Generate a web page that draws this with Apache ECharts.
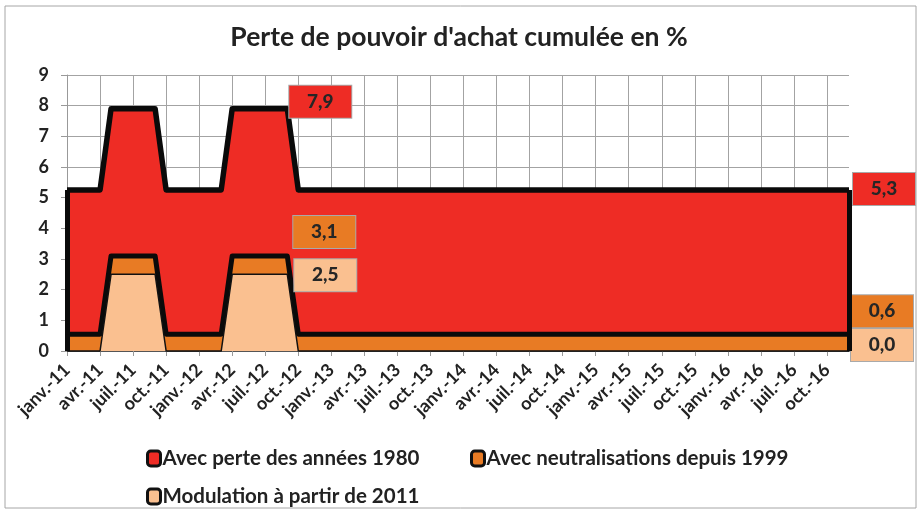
<!DOCTYPE html>
<html>
<head>
<meta charset="utf-8">
<title>Perte de pouvoir d'achat cumulée en %</title>
<script src="https://cdn.jsdelivr.net/npm/echarts@6/dist/echarts.min.js"></script>
<style>
  html, body { margin: 0; padding: 0; background: #fff; }
  #chart { width: 918px; height: 511px; }
</style>
</head>
<body>
<div id="chart"></div>
<script>
// mois de janv.-11 a déc.-16
var months = ['janv.', 'févr.', 'mars', 'avr.', 'mai', 'juin', 'juil.', 'août', 'sept.', 'oct.', 'nov.', 'déc.'];
var years = ['11', '12', '13', '14', '15', '16'];
var categories = [];
years.forEach(function (y) {
    months.forEach(function (m) { categories.push(m + '-' + y); });
});

var seriesNames = ['Avec perte des années 1980', 'Avec neutralisations depuis 1999', 'Modulation à partir de 2011'];

var perte1980 = [
    5.25, 5.25, 5.25, 5.25, 7.9, 7.9, 7.9, 7.9, 7.9, 5.25, 5.25, 5.25,
    5.25, 5.25, 5.25, 7.9, 7.9, 7.9, 7.9, 7.9, 7.9, 5.25, 5.25, 5.25,
    5.25, 5.25, 5.25, 5.25, 5.25, 5.25, 5.25, 5.25, 5.25, 5.25, 5.25, 5.25,
    5.25, 5.25, 5.25, 5.25, 5.25, 5.25, 5.25, 5.25, 5.25, 5.25, 5.25, 5.25,
    5.25, 5.25, 5.25, 5.25, 5.25, 5.25, 5.25, 5.25, 5.25, 5.25, 5.25, 5.25,
    5.25, 5.25, 5.25, 5.25, 5.25, 5.25, 5.25, 5.25, 5.25, 5.25, 5.25, 5.25
];
var neutral1999 = [
    0.55, 0.55, 0.55, 0.55, 3.1, 3.1, 3.1, 3.1, 3.1, 0.55, 0.55, 0.55,
    0.55, 0.55, 0.55, 3.1, 3.1, 3.1, 3.1, 3.1, 3.1, 0.55, 0.55, 0.55,
    0.55, 0.55, 0.55, 0.55, 0.55, 0.55, 0.55, 0.55, 0.55, 0.55, 0.55, 0.55,
    0.55, 0.55, 0.55, 0.55, 0.55, 0.55, 0.55, 0.55, 0.55, 0.55, 0.55, 0.55,
    0.55, 0.55, 0.55, 0.55, 0.55, 0.55, 0.55, 0.55, 0.55, 0.55, 0.55, 0.55,
    0.55, 0.55, 0.55, 0.55, 0.55, 0.55, 0.55, 0.55, 0.55, 0.55, 0.55, 0.55
];
var modulation2011 = [
    0, 0, 0, 0, 2.5, 2.5, 2.5, 2.5, 2.5, 0, 0, 0,
    0, 0, 0, 2.5, 2.5, 2.5, 2.5, 2.5, 2.5, 0, 0, 0,
    0, 0, 0, 0, 0, 0, 0, 0, 0, 0, 0, 0,
    0, 0, 0, 0, 0, 0, 0, 0, 0, 0, 0, 0,
    0, 0, 0, 0, 0, 0, 0, 0, 0, 0, 0, 0,
    0, 0, 0, 0, 0, 0, 0, 0, 0, 0, 0, 0
];

// points étiquetés (sept.-12 et déc.-16)
var labelIdx = [20, 71];

var colors = ['#ee2c25', '#e87b24', '#fac090'];
var FONT = 'Lato, "Open Sans", sans-serif';

function fmt(v) { return v.toFixed(1).replace('.', ','); }

function buildData(values, color, offsets) {
    return values.map(function (v, i) {
        var k = labelIdx.indexOf(i);
        if (k < 0) return v;
        return {
            value: v,
            label: {
                show: true,
                position: 'right',
                distance: 0,
                offset: offsets[k],
                formatter: '{b|' + fmt(v) + '}',
                rich: {
                    b: {
                        width: 62, height: 32, lineHeight: 32, align: 'center',
                        backgroundColor: color, borderColor: '#a9a9a9', borderWidth: 1,
                        fontFamily: FONT, fontWeight: 900, fontSize: 19, color: '#262626'
                    }
                }
            }
        };
    });
}

function edges(values) {
    var last = values.length - 1;
    return {
        silent: true,
        symbol: 'none',
        label: { show: false },
        lineStyle: { color: '#0a0a0a', width: 5, type: 'solid' },
        data: [
            [{ coord: [categories[0], 0] }, { coord: [categories[0], values[0]] }],
            [{ coord: [categories[last], 0] }, { coord: [categories[last], values[last]] }]
        ]
    };
}

var chart = echarts.init(document.getElementById('chart'));
chart.setOption({
    animation: false,
    title: {
        text: "Perte de pouvoir d'achat cumulée en %",
        left: 'center',
        top: 19,
        textStyle: { fontFamily: FONT, fontWeight: 'bold', fontSize: 26.5, color: '#222' }
    },
    legend: [
        { left: 141, top: 443, data: [seriesNames[0]] },
        { left: 465, top: 443, data: [seriesNames[1]] },
        { left: 141, top: 481, data: [seriesNames[2]] }
    ].map(function (l) {
        l.icon = 'roundRect';
        l.itemWidth = 13;
        l.itemHeight = 15;
        l.itemGap = 0;
        l.itemStyle = { borderColor: '#111', borderWidth: 3 };
        l.textStyle = { fontFamily: FONT, fontWeight: 'bold', fontSize: 20.5, color: '#222', padding: [0, 0, 0, -3] };
        return l;
    }),
    graphic: [{
        type: 'rect',
        shape: { x: 5, y: 6, width: 911, height: 502 },
        style: { fill: 'none', stroke: '#a6a6a6', lineWidth: 1 },
        silent: true
    }],
    grid: { left: 67, right: 69, top: 75, bottom: 160 },
    xAxis: {
        type: 'category',
        boundaryGap: false,
        data: categories,
        axisLine: { lineStyle: { color: '#555', width: 2 } },
        axisTick: { interval: 2, length: 5, lineStyle: { color: '#999' } },
        axisLabel: {
            interval: 2, rotate: 45, margin: 16,
            fontFamily: FONT, fontWeight: 'bold', fontSize: 18, color: '#222'
        },
        splitLine: { show: true, interval: 2, lineStyle: { color: '#a3a3a3', width: 1 } }
    },
    yAxis: {
        type: 'value',
        min: 0, max: 9, interval: 1,
        axisLine: { show: true, lineStyle: { color: '#999' } },
        axisTick: { show: true, length: 6, lineStyle: { color: '#999' } },
        axisLabel: { margin: 18, fontFamily: FONT, fontWeight: 'bold', fontSize: 18, color: '#222' },
        splitLine: { lineStyle: { color: '#a3a3a3', width: 1 } }
    },
    series: [
        {
            name: seriesNames[0],
            type: 'line',
            data: buildData(perte1980, colors[0], [[2, -7], [4, -1]]),
            symbol: 'circle', symbolSize: 0, showAllSymbol: true,
            clip: false,
            itemStyle: { color: colors[0] },
            lineStyle: { color: '#0a0a0a', width: 5.5, join: 'round' },
            areaStyle: { color: colors[0], opacity: 1 },
            markLine: edges(perte1980),
            z: 2
        },
        {
            name: seriesNames[1],
            type: 'line',
            data: buildData(neutral1999, colors[1], [[6, -24], [2, -23]]),
            symbol: 'circle', symbolSize: 0, showAllSymbol: true,
            clip: false,
            itemStyle: { color: colors[1] },
            lineStyle: { color: '#0a0a0a', width: 5, join: 'round' },
            areaStyle: { color: colors[1], opacity: 1 },
            markLine: edges(neutral1999),
            z: 3
        },
        {
            name: seriesNames[2],
            type: 'line',
            data: buildData(modulation2011, colors[2], [[7, 1], [2, -6]]),
            symbol: 'circle', symbolSize: 0, showAllSymbol: true,
            clip: false,
            itemStyle: { color: colors[2] },
            lineStyle: { color: '#111', width: 1.5, join: 'round' },
            areaStyle: { color: colors[2], opacity: 1 },
            z: 4
        }
    ]
});
</script>
</body>
</html>
